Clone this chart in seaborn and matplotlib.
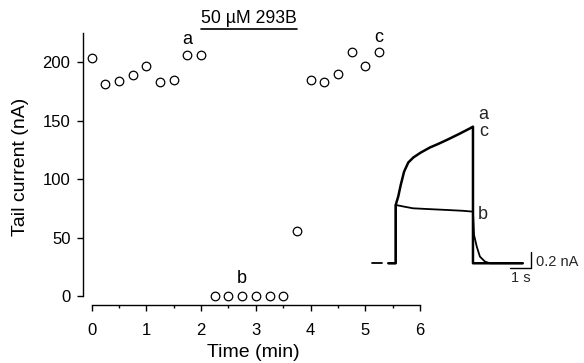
import numpy as np
import pandas as pd
import matplotlib
matplotlib.use("Agg")
import matplotlib.pyplot as plt
import seaborn as sns

# ---- main time-course data ----
time_min = [0.0, 0.25, 0.5, 0.75, 1.0, 1.25, 1.5, 1.75, 2.0,
            2.25, 2.5, 2.75, 3.0, 3.25, 3.5, 3.75,
            4.0, 4.25, 4.5, 4.75, 5.0, 5.25]
tail_nA = [204, 182, 184, 189, 197, 183, 185, 206, 206,
           0, 0, 0, 0, 0, 0, 56,
           185, 183, 190, 209, 197, 209]
x_ticks = [0, 1, 2, 3, 4, 5, 6]
y_ticks = [0, 50, 100, 150, 200]
point_labels = ["a", "b", "c"]
point_label_t = [1.75, 2.75, 5.25]
point_label_y = [212, 8, 214]
drug_label = "50 \u00b5M 293B"
drug_start, drug_end = 2.0, 3.75

# ---- inset current traces (time in s, current in nA) ----
trace_ac_t = [-0.35, 0.0, 0.0, 0.12, 0.24, 0.40, 0.60, 0.84, 1.20, 1.63, 2.00, 2.43, 3.00, 3.54, 3.68, 3.68, 6.05]
trace_ac_i = [0.0, 0.0, 0.70, 0.80, 0.94, 1.10, 1.21, 1.27, 1.33, 1.39, 1.43, 1.48, 1.55, 1.62, 1.64, 0.0, 0.0]
trace_b_t = [-0.35, 0.0, 0.0, 0.40, 0.82, 1.60, 2.43, 3.20, 3.68, 3.73, 3.86, 4.01, 4.25, 4.49, 6.05]
trace_b_i = [0.0, 0.0, 0.70, 0.68, 0.66, 0.65, 0.64, 0.63, 0.62, 0.34, 0.20, 0.08, 0.02, 0.0, 0.0]
holding_t = [-1.11, -0.64]
holding_i = [0.0, 0.0]
scale_t = [5.44, 6.44, 6.44]
scale_i = [-0.06, -0.06, 0.14]

sns.set_theme(style="ticks")
plt.rcParams['font.family'] = ['Liberation Sans', 'DejaVu Sans']

fig = plt.figure(figsize=(5.84, 3.63), dpi=100)
ax = fig.add_axes([0.1421, 0.1598, 0.5817, 0.7584])

df = pd.DataFrame({"t": time_min, "I": tail_nA})
sns.scatterplot(data=df, x="t", y="I", ax=ax, marker="o", s=38,
                facecolor="white", edgecolor="black", linewidth=0.9, zorder=3)

ax.set_xlim(-0.16, 6.05)
ax.set_ylim(-7.3, 228)
ax.spines["top"].set_visible(False)
ax.spines["right"].set_visible(False)
ax.spines["left"].set_bounds(0, 225)
ax.spines["bottom"].set_bounds(0, 6)
for s in ("left", "bottom"):
    ax.spines[s].set_linewidth(1.0)
    ax.spines[s].set_color("black")
ax.set_xticks(x_ticks)
ax.set_xticks(np.arange(0.5, 6, 1.0), minor=True)
ax.set_yticks(y_ticks)
ax.tick_params(axis="both", which="major", length=4, width=1, color="black",
               labelsize=12, labelcolor="black")
ax.tick_params(axis="x", which="major", pad=9)
ax.tick_params(axis="y", which="major", pad=5)
ax.tick_params(axis="x", which="minor", length=2.5, width=1, color="black")
ax.set_xlabel("Time (min)", fontsize=14, color="black", labelpad=4)
ax.set_ylabel("Tail current (nA)", fontsize=14, color="black", labelpad=10)

for lab, t, y in zip(point_labels, point_label_t, point_label_y):
    ax.text(t, y, lab, ha="center", va="bottom", fontsize=13, color="black")

ax.plot([drug_start, drug_end], [228.5, 228.5], color="black", lw=1.2, clip_on=False)
ax.text((drug_start + drug_end) / 2, 230.5, drug_label, ha="center", va="bottom",
        fontsize=12.7, color="black", clip_on=False)

# ---- inset ----
ins = fig.add_axes([0.6344, 0.2518, 0.2805, 0.4245])
ins.set_xlim(-1.2, 6.6)
ins.set_ylim(-0.1, 1.75)
ins.axis("off")
tr = pd.DataFrame({"t": trace_ac_t, "I": trace_ac_i})
trb = pd.DataFrame({"t": trace_b_t, "I": trace_b_i})
sns.lineplot(data=tr, x="t", y="I", ax=ins, sort=False, estimator=None,
             color="black", lw=1.8, legend=False)
sns.lineplot(data=trb, x="t", y="I", ax=ins, sort=False, estimator=None,
             color="black", lw=1.3, legend=False)
ins.plot(holding_t, holding_i, color="black", lw=1.3)
ins.plot(scale_t, scale_i, color="black", lw=1.0, clip_on=False)
ins.text(4.17, 1.79, "a", ha="center", va="center", fontsize=13, clip_on=False)
ins.text(4.17, 1.58, "c", ha="center", va="center", fontsize=13, clip_on=False)
ins.text(4.17, 0.59, "b", ha="center", va="center", fontsize=13, clip_on=False)
ins.text(6.68, 0.01, "0.2 nA", ha="left", va="center", fontsize=10.5, clip_on=False)
ins.text(5.94, -0.18, "1 s", ha="center", va="center", fontsize=10.5, clip_on=False)
ins.set_xlabel("")
ins.set_ylabel("")

fig.savefig("out.png", dpi=100)
